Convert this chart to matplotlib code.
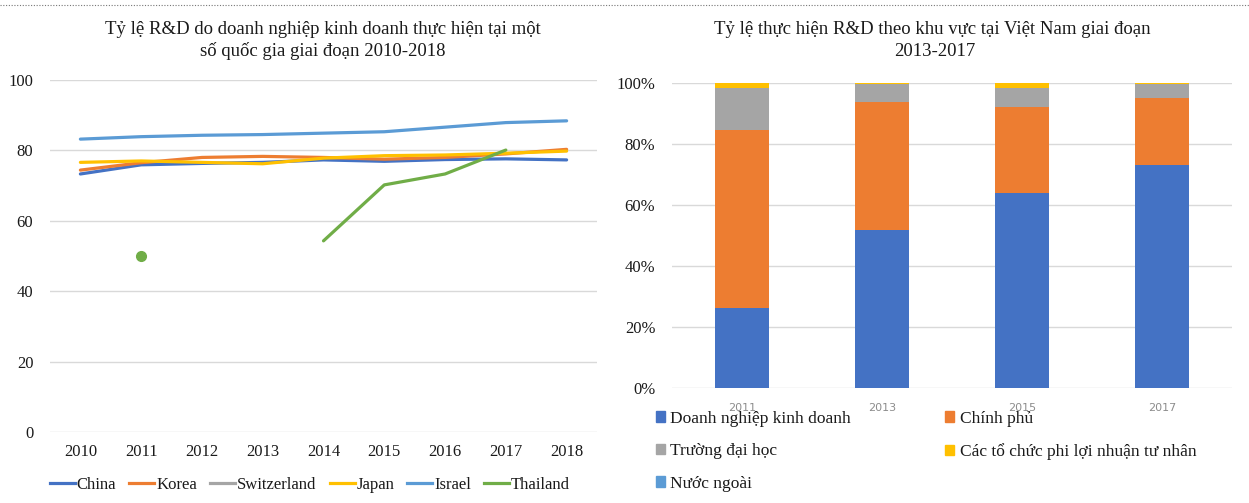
import numpy as np
import matplotlib
matplotlib.use("Agg")
import matplotlib.pyplot as plt
from matplotlib.lines import Line2D
from matplotlib.patches import Patch

plt.rcParams["font.family"] = ["Liberation Serif", "DejaVu Serif"]

# left chart: share of R&D performed by business enterprises
years = ["2010", "2011", "2012", "2013", "2014", "2015", "2016", "2017", "2018"]
nan = np.nan
china = [73.3, 75.9, 76.3, 76.6, 77.3, 76.9, 77.4, 77.6, 77.3]
korea = [74.4, 76.5, 78.0, 78.3, 78.0, 77.5, 78.0, 79.0, 80.3]
switzerland = [nan, nan, 76.8, nan, nan, 77.6, nan, 78.4, nan]
japan = [76.6, 77.0, 76.6, 76.2, 77.8, 78.5, 78.7, 79.2, 79.8]
israel = [83.2, 83.9, 84.3, 84.5, 84.9, 85.3, 86.6, 87.9, 88.4]
thailand = [nan, 50.0, nan, nan, 54.3, 70.2, 73.3, 80.1, nan]

series = [("China", china, "#4472C4"), ("Korea", korea, "#ED7D31"),
          ("Switzerland", switzerland, "#A5A5A5"), ("Japan", japan, "#FFC000"),
          ("Israel", israel, "#5B9BD5"), ("Thailand", thailand, "#70AD47")]

# right chart: R&D performed by sector in Vietnam
periods = ["2011", "2013", "2015", "2017"]
business = [26.2, 51.8, 63.9, 73.1]
government = [58.4, 42.0, 28.2, 21.9]
university = [13.8, 5.9, 6.2, 4.7]
nonprofit = [1.6, 0.3, 1.7, 0.3]
foreign = [0.0, 0.0, 0.0, 0.0]

sectors = [("Doanh nghiệp kinh doanh", business, "#4472C4"),
           ("Chính phủ", government, "#ED7D31"),
           ("Trường đại học", university, "#A5A5A5"),
           ("Các tổ chức phi lợi nhuận tư nhân", nonprofit, "#FFC000"),
           ("Nước ngoài", foreign, "#5B9BD5")]

W, H = 1249, 503
fig = plt.figure(figsize=(W / 100, H / 100), dpi=100)
grid_c = "#D9D9D9"
txt_c = "#1A1A1A"

# ---- left
ax1 = fig.add_axes([50 / W, 1 - 432 / H, 547 / W, 352 / H])
x = np.arange(len(years))
handles = []
for name, vals, col in series:
    v = np.array(vals, dtype=float)
    ax1.plot(x, v, color=col, lw=2.3, solid_capstyle="round")
    # points with no neighbours are drawn as a dot (Excel style)
    for i in range(len(v)):
        if np.isnan(v[i]):
            continue
        left = i == 0 or np.isnan(v[i - 1])
        right = i == len(v) - 1 or np.isnan(v[i + 1])
        if left and right and name == "Thailand":
            ax1.plot(x[i], v[i], "o", color=col, ms=7)
    handles.append(Line2D([], [], color=col, lw=2.3))
ax1.set_xlim(-0.5, len(years) - 0.5)
ax1.set_ylim(0, 100)
ax1.set_yticks(range(0, 101, 20))
ax1.set_xticks(x, years)
ax1.grid(axis="y", color=grid_c, lw=1)
ax1.set_axisbelow(True)
for s in ax1.spines.values():
    s.set_visible(False)
ax1.tick_params(length=0, labelsize=12, labelcolor=txt_c, pad=9)
ax1.tick_params(axis="y", pad=12)
fig.text(323 / W, 1 - 29 / H, "Tỷ lệ R&D do doanh nghiệp kinh doanh thực hiện tại một",
         ha="center", va="center", fontsize=13.5, color=txt_c)
fig.text(323 / W, 1 - 51 / H, "số quốc gia giai đoạn 2010-2018",
         ha="center", va="center", fontsize=13.5, color=txt_c)
fig.legend(handles, [s[0] for s in series], loc="center", ncol=6,
           bbox_to_anchor=(310 / W, 1 - 485 / H), frameon=False, fontsize=12,
           handlelength=1.5, handletextpad=0.1, columnspacing=0.8,
           labelcolor=txt_c)

# ---- right
ax2 = fig.add_axes([672 / W, 1 - 388 / H, 560 / W, 305 / H])
xb = np.arange(len(periods))
bottom = np.zeros(len(periods))
for name, vals, col in sectors:
    ax2.bar(xb, vals, 0.38, bottom=bottom, color=col)
    bottom += np.array(vals)
ax2.set_xlim(-0.5, len(periods) - 0.5)
ax2.set_ylim(0, 100)
ax2.set_yticks(range(0, 101, 20), [f"{v}%" for v in range(0, 101, 20)])
ax2.set_xticks(xb, periods)
ax2.grid(axis="y", color=grid_c, lw=1)
ax2.set_axisbelow(True)
for s in ax2.spines.values():
    s.set_visible(False)
ax2.tick_params(length=0)
ax2.tick_params(axis="y", labelsize=12, labelcolor=txt_c, pad=12)
ax2.tick_params(axis="x", labelsize=8, labelcolor="#8C8C8C", pad=11)
for t in ax2.get_xticklabels():
    t.set_family("DejaVu Sans")
fig.text(932 / W, 1 - 29 / H, "Tỷ lệ thực hiện R&D theo khu vực tại Việt Nam giai đoạn",
         ha="center", va="center", fontsize=13.5, color=txt_c)
fig.text(935 / W, 1 - 51 / H, "2013-2017",
         ha="center", va="center", fontsize=13.5, color=txt_c)

patches = [Patch(color=s[2]) for s in sectors]
labels = [s[0] for s in sectors]
order = [0, 2, 4, 1, 3]
fig.legend([patches[i] for i in order], [labels[i] for i in order],
           loc="upper left", bbox_to_anchor=(647 / W, 1 - 402 / H), ncol=2,
           frameon=False, fontsize=12.5, handlelength=0.55, handleheight=0.55,
           handletextpad=0.3, labelspacing=0.95, columnspacing=5.4,
           borderpad=0, labelcolor=txt_c)

# dotted rule across the top
fig.add_artist(Line2D([0, 1], [1 - 5 / H, 1 - 5 / H], transform=fig.transFigure,
                      color="#777777", lw=0.8, ls=(0, (1, 1.5))))

fig.savefig("out.png", dpi=100, facecolor="white")
